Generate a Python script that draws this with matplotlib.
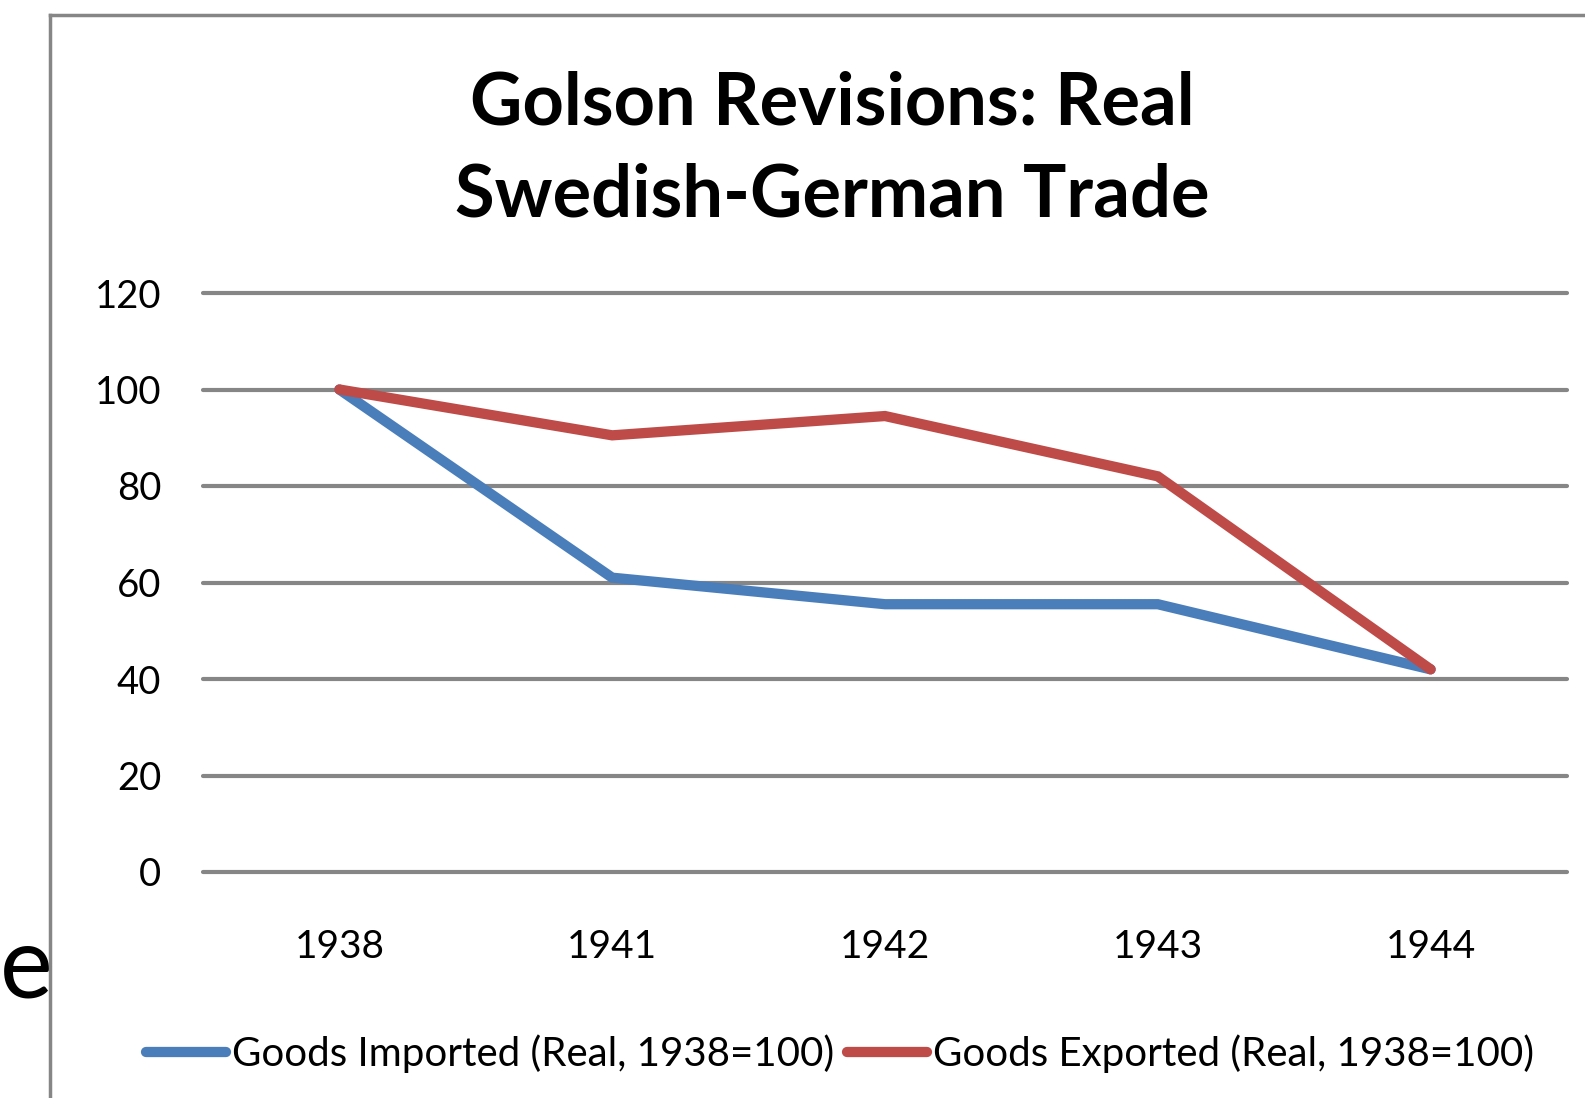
import matplotlib
matplotlib.use("Agg")
import matplotlib.pyplot as plt
from matplotlib.lines import Line2D

# data (1938 = 100)
years = ["1938", "1941", "1942", "1943", "1944"]
imported = [100, 61, 55.5, 55.5, 42]
exported = [100, 90.5, 94.5, 82, 42]
yticks = [0, 20, 40, 60, 80, 100, 120]

title = "Golson Revisions: Real\nSwedish-German Trade"
lab_imp = "Goods Imported (Real, 1938=100)"
lab_exp = "Goods Exported (Real, 1938=100)"

blue = "#4A7EBB"
red = "#BE4B48"
grey = "#868686"

plt.rcParams["font.family"] = ["Lato", "DejaVu Sans"]

W, H = 1585, 1098
fig = plt.figure(figsize=(W / 100, H / 100), dpi=100)
ax = fig.add_axes([203 / W, 1 - 872 / H, (1567 - 203) / W, (872 - 293) / H])

x = list(range(len(years)))
ax.plot(x, imported, color=blue, lw=7.4, solid_capstyle="round", solid_joinstyle="miter", label=lab_imp, zorder=3)
ax.plot(x, exported, color=red, lw=7.4, solid_capstyle="round", solid_joinstyle="miter", label=lab_exp, zorder=4)

ax.set_xlim(-0.5, len(years) - 0.5)
ax.set_ylim(0, 120)
ax.set_yticks(yticks)
ax.set_xticks(x)
ax.set_xticklabels(years)
ax.tick_params(axis="both", length=0)
ax.tick_params(axis="y", pad=30, labelsize=27.5)
ax.tick_params(axis="x", pad=41, labelsize=28)
for s in ax.spines.values():
    s.set_visible(False)
ax.grid(axis="y", color=grey, lw=3, zorder=1)
ax.grid(axis="x", visible=False)
for gl in ax.get_ygridlines():
    gl.set_clip_on(False)
    gl.set_solid_capstyle("round")

# title, centred over the whole chart area
fig.text(832 / W, 1 - 150 / H, title, ha="center", va="center",
         fontsize=52, fontweight="bold", linespacing=1.47)

# legend below the plot
handles = [Line2D([], [], color=blue, lw=7.4, solid_capstyle="round"),
           Line2D([], [], color=red, lw=7.4, solid_capstyle="round")]
fig.legend(handles, [lab_imp, lab_exp], loc="center", bbox_to_anchor=(840 / W, 1 - 1054 / H),
           ncol=2, frameon=False, fontsize=29, handlelength=2.0, handletextpad=0.15,
           columnspacing=0.3)

# chart frame (only left and top edges show in the crop)
fig.add_artist(Line2D([50 / W, 50 / W], [0, 1 - 15 / H], color=grey, lw=2.5))
fig.add_artist(Line2D([50 / W, 1], [1 - 15 / H, 1 - 15 / H], color=grey, lw=2.5))

# stray letter from the slide behind
fig.text(0 / W, 1 - 998 / H, "e", fontsize=72, ha="left", va="baseline")

fig.savefig("out.png", dpi=100, facecolor="white")
